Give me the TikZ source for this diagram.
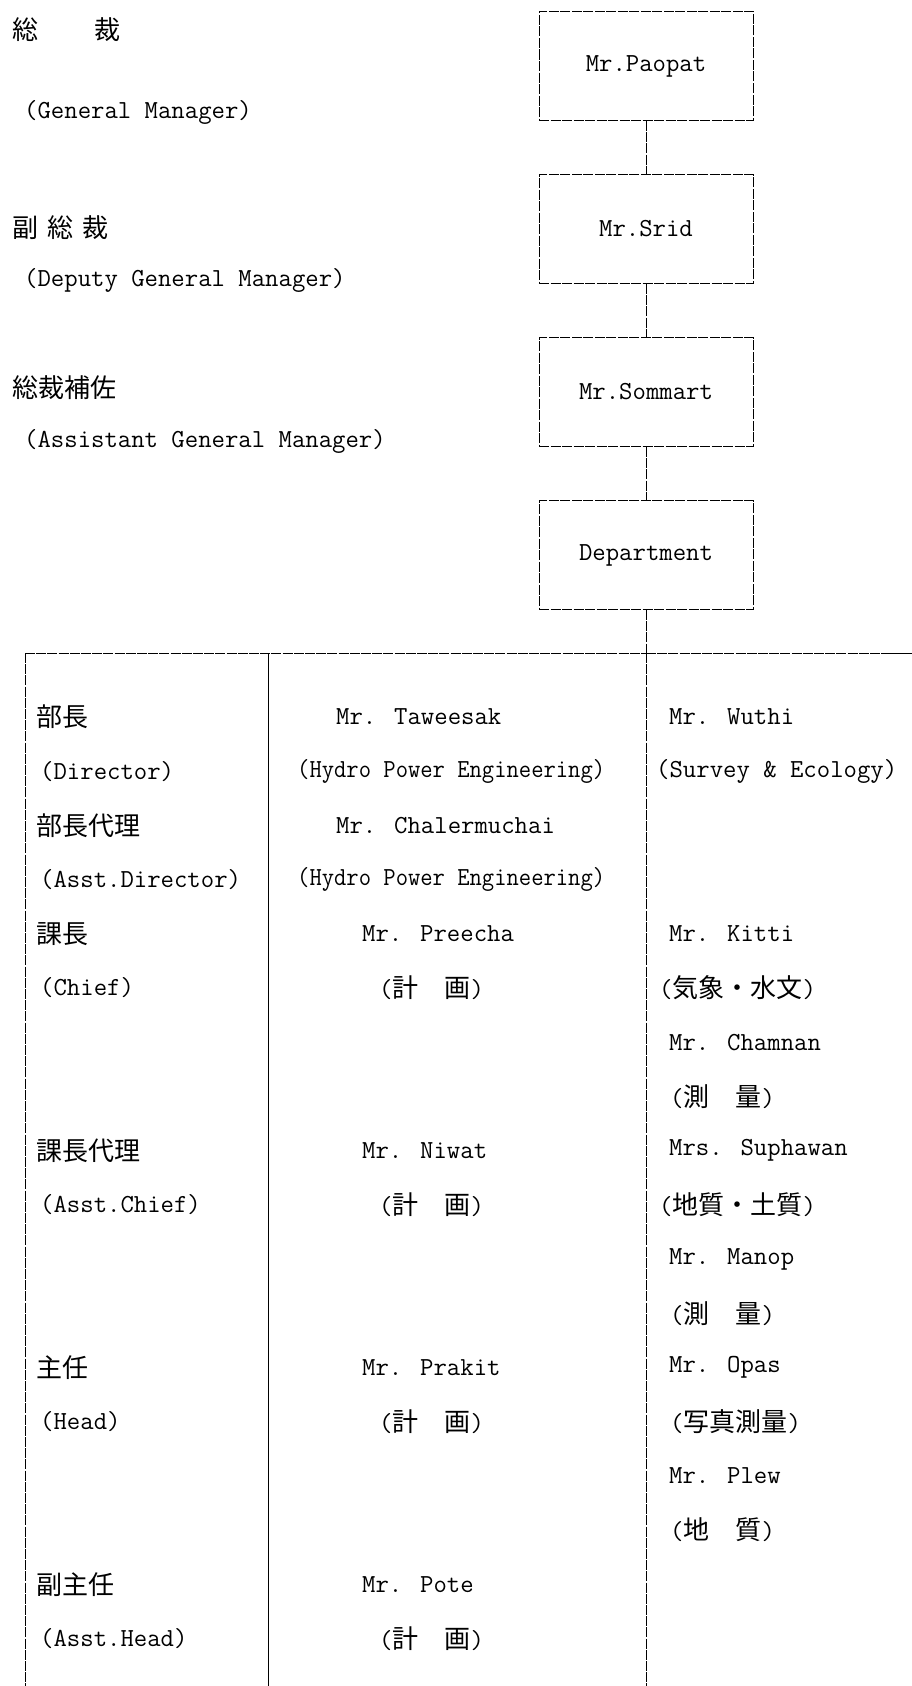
\documentclass[tikz,border=0pt]{standalone}
\usepackage{fontspec}
\newfontfamily\jpf{Noto Sans CJK JP}
\newcommand{\J}[1]{{\jpf #1}}
\tikzset{
  x=1pt, y=-1pt,
  rule/.style={line width=0.9pt, dash pattern=on 10pt off 1.2pt},
  solidrule/.style={line width=0.9pt},
  orgbox/.style={draw, line width=0.8pt, dash pattern=on 10pt off 1.5pt,
    minimum width=214pt, minimum height=109pt, inner sep=0pt,
    font=\fontsize{26}{30}\selectfont\ttfamily},
  lbl/.style={anchor=west, inner sep=0pt, font=\fontsize{26}{30}\selectfont\ttfamily},
  jlbl/.style={anchor=west, inner sep=0pt, font=\fontsize{26}{30}\selectfont\jpf},
}
\begin{document}
\begin{tikzpicture}
\useasboundingbox (0,0) rectangle (912,1686);
% left titles
\node[jlbl] (t1) at (12,30) {総　　\hspace{4pt}裁};
\node[lbl] (t1e) at (24,112) {(General Manager)};
\node[jlbl] (t2) at (12,228) {副\hspace{9pt}総\hspace{9pt}裁};
\node[lbl] (t2e) at (24,280) {(Deputy General Manager)};
\node[jlbl] (t3) at (12,388) {総裁補佐};
\node[lbl] (t3e) at (24,441) {(Assistant General Manager)};
% boxes
\node[orgbox] (paopat) at (646,66) {Mr.Paopat};
\node[orgbox] (srid) at (646,229) {Mr.Srid};
\node[orgbox] (sommart) at (646,392) {Mr.Sommart};
\node[orgbox] (dept) at (646,555) {Department};
\draw[rule] (paopat.south) -- (srid.north);
\draw[rule] (srid.south) -- (sommart.north);
\draw[rule] (sommart.south) -- (dept.north);
% table
\coordinate (tl) at (25,653);
\coordinate (tm) at (268,653);
\coordinate (tr) at (646,653);
\coordinate (te) at (912,653);
\coordinate (bl) at (25,1686);
\coordinate (bm) at (268,1686);
\coordinate (br) at (646,1686);
\draw[rule] (dept.south) -- (tr);
\draw[rule] (tl) -- (tr);
\draw[rule] (tr) -- (885,653);
\draw[solidrule] (885,653) -- (te);
\draw[rule] (tl) -- (bl);
\draw[solidrule] (tm) -- (bm);
\draw[rule] (tr) -- (br);
% left column
\node[jlbl] (l0) at (36,717.0) {部長};
\node[lbl] (l1) at (40,771.2) {(Director)};
\node[jlbl] (l2) at (36,825.4) {部長代理};
\node[lbl] (l3) at (40,879.6) {(Asst.Director)};
\node[jlbl] (l4) at (36,933.8) {課長};
\node[lbl] (l5) at (40,988.0) {(Chief)};
\node[jlbl] (l8) at (36,1150.6) {課長代理};
\node[lbl] (l9) at (40,1204.8) {(Asst.Chief)};
\node[jlbl] (l12) at (36,1367.4) {主任};
\node[lbl] (l13) at (40,1421.6) {(Head)};
\node[jlbl] (l16) at (36,1584.2) {副主任};
\node[lbl] (l17) at (40,1638.4) {(Asst.Head)};
% middle column
\node[lbl] (m0) at (336,717.0) {Mr. Taweesak};
\node[lbl] (m1) at (297,771.2) {\scalebox{0.92}[1]{(Hydro Power Engineering)}};
\node[lbl] (m2) at (336,825.4) {Mr. Chalermuchai};
\node[lbl] (m3) at (297,879.6) {\scalebox{0.92}[1]{(Hydro Power Engineering)}};
\node[lbl] (m4) at (362,933.8) {Mr. Preecha};
\node[lbl] (m5) at (379,988.0) {(\J{計　画})};
\node[lbl] (m8) at (362,1150.6) {Mr. Niwat};
\node[lbl] (m9) at (379,1204.8) {(\J{計　画})};
\node[lbl] (m12) at (362,1367.4) {Mr. Prakit};
\node[lbl] (m13) at (379,1421.6) {(\J{計　画})};
\node[lbl] (m16) at (362,1584.2) {Mr. Pote};
\node[lbl] (m17) at (379,1638.4) {(\J{計　画})};
% right column
\node[lbl] (r0) at (669,717.0) {Mr. Wuthi};
\node[lbl] (r1) at (656,771.2) {(Survey \& Ecology)};
\node[lbl] (r4) at (669,933.8) {Mr. Kitti};
\node[lbl] (r5) at (659,988.0) {(\J{気象・水文})};
\node[lbl] (r6) at (669,1042.2) {Mr. Chamnan};
\node[lbl] (r7) at (670,1096.4) {(\J{測　量})};
\node[lbl] (r8) at (669,1150.6) {Mrs. Suphawan};
\node[lbl] (r9) at (659,1204.8) {(\J{地質・土質})};
\node[lbl] (r10) at (669,1259.0) {Mr. Manop};
\node[lbl] (r11) at (670,1313.2) {(\J{測　量})};
\node[lbl] (r12) at (669,1367.4) {Mr. Opas};
\node[lbl] (r13) at (670,1421.6) {(\J{写真測量})};
\node[lbl] (r14) at (669,1475.8) {Mr. Plew};
\node[lbl] (r15) at (670,1530.0) {(\J{地　質})};
\end{tikzpicture}
\end{document}
